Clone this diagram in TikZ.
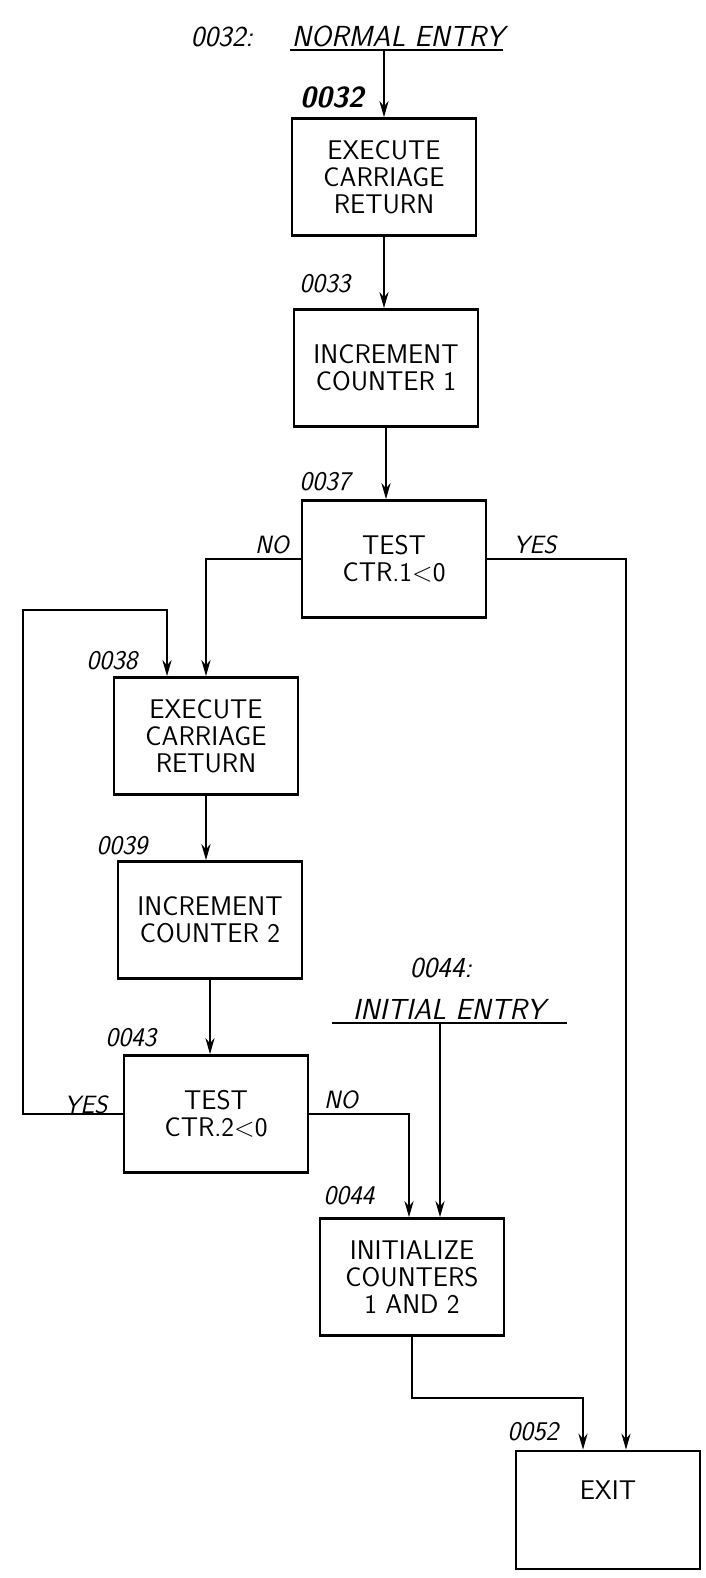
\documentclass[tikz,border=0pt]{standalone}
\usepackage{tikz}
\usetikzlibrary{arrows.meta, positioning}

\begin{document}
\begin{tikzpicture}[
    x=1pt, y=-1pt,
    line width=2.6pt,
    proc node/.style={rectangle,draw,align=center,minimum width=184pt,minimum height=117pt,
        font=\sffamily\fontsize{27}{27}\selectfont},
    addr label/.style={font=\sffamily\itshape\fontsize{27}{28}\selectfont},
    branch label/.style={font=\sffamily\itshape\fontsize{25}{26}\selectfont},
    entry label/.style={font=\sffamily\itshape\fontsize{29}{30}\selectfont},
    arrow/.style={-{Stealth[length=16pt,width=9pt]},line width=2.6pt}
]
\useasboundingbox (0,0) rectangle (705,1578);

% normal entry
\node[entry label] (normaddr) at (222,37) {0032:};
\node[entry label] (normal) at (398,36) {NORMAL ENTRY};
\coordinate (normL) at (290,50);
\coordinate (normR) at (503,50);
\coordinate (normbar) at (384,50);
\draw (normL) -- (normR);

% main column
\node[proc node] (exec1) at (384,177) {EXECUTE\\CARRIAGE\\RETURN};
\node[proc node] (incr1) at (386,368) {INCREMENT\\COUNTER 1};
\node[proc node] (test1) at (394,559) {TEST\\CTR.1\textless 0};
\node[proc node] (exec2) at (206,736) {EXECUTE\\CARRIAGE\\RETURN};
\node[proc node] (incr2) at (210,920) {INCREMENT\\COUNTER 2};
\node[proc node] (test2) at (216,1114) {TEST\\CTR.2\textless 0};
\node[proc node] (init) at (412,1277) {INITIALIZE\\COUNTERS\\1 AND 2};
\node[proc node, minimum height=118pt, text depth=40pt] (exit) at (608,1510) {EXIT};

% addresses
\node[addr label, font=\sffamily\bfseries\itshape\fontsize{29}{30}\selectfont] (a32) at (332,97) {0032};
\node[addr label] (a33) at (325,284) {0033};
\node[addr label] (a37) at (325,482) {0037};
\node[addr label] (a38) at (112,661) {0038};
\node[addr label] (a39) at (122,846) {0039};
\node[addr label] (a43) at (131,1038) {0043};
\node[addr label] (a44) at (349,1196) {0044};
\node[addr label] (a52) at (533,1432) {0052};

% initial entry
\node[entry label] (initaddr) at (441,968) {0044:};
\node[entry label] (initial) at (449,1009) {INITIAL ENTRY};
\coordinate (initL) at (332,1023);
\coordinate (initR) at (567,1023);
\coordinate (initbar) at (440,1023);
\draw (initL) -- (initR);

% branch labels
\node[branch label] (no1) at (272,545) {NO};
\node[branch label] (yes1) at (535,545) {YES};
\node[branch label] (yes2) at (86,1105) {YES};
\node[branch label] (no2) at (341,1100) {NO};

% loop corners
\coordinate (loopL) at (23,610);
\coordinate (loopR) at (167,610);
\coordinate (jog) at (583,1398);

% connectors
\draw[arrow] (normbar) -- (normbar |- exec1.north);
\draw[arrow] (exec1.south) -- (exec1.south |- incr1.north);
\draw[arrow] (incr1.south) -- (incr1.south |- test1.north);
\draw[arrow] (test1.west) -| (exec2.north);
\draw[arrow] (test1.east) -| ([xshift=18pt]exit.north);
\draw[arrow] (exec2.south) -- (exec2.south |- incr2.north);
\draw[arrow] (incr2.south) -- (incr2.south |- test2.north);
\draw[arrow] (test2.west) -| (loopL) -- (loopR) -- (loopR |- exec2.north);
\draw[arrow] (test2.east) -| ([xshift=-3pt]init.north);
\draw[arrow] (initbar) -- (initbar |- init.north);
\draw[arrow] (init.south) |- (jog) -- (jog |- exit.north);

\end{tikzpicture}
\end{document}
